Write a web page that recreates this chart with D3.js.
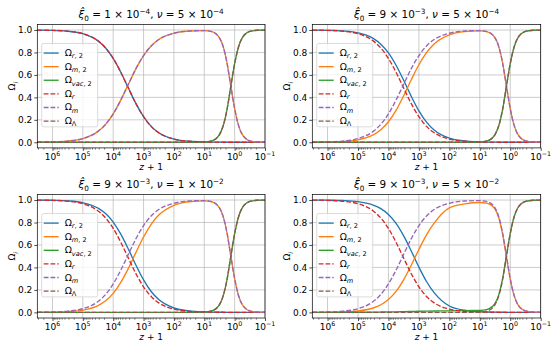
<!DOCTYPE html>
<html>
<head>
<meta charset="utf-8">
<script src="https://cdn.jsdelivr.net/npm/d3@7"></script>
<style>
  body { margin: 0; background: #fff; }
  svg { font-family: "DejaVu Sans", sans-serif; }
</style>
</head>
<body>
<svg id="chart" width="560" height="350"></svg>
<script>
// log10(z + 1) sample points
const logZp1 = [6.5, 6, 5.5, 5, 4.5, 4.25, 4, 3.75, 3.5, 3.25, 3, 2.75, 2.5, 2, 1.5, 1, 0.75, 0.5, 0.375, 0.25, 0.125, 0, -0.125, -0.25, -0.5, -0.75, -1];

// standard model (dashed), same in every panel
const omegaR = [0.999, 0.997, 0.989, 0.967, 0.903, 0.840, 0.747, 0.624, 0.483, 0.344, 0.228, 0.142, 0.085, 0.029, 0.009, 0.003, 0.002, 0.001, 0.0007, 0.0005, 0.0003, 0.0002, 0.0001, 0.0001, 0, 0, 0];
const omegaM = [0.001, 0.003, 0.011, 0.033, 0.097, 0.160, 0.253, 0.376, 0.517, 0.656, 0.772, 0.858, 0.915, 0.971, 0.991, 0.995, 0.985, 0.930, 0.850, 0.705, 0.500, 0.300, 0.153, 0.070, 0.013, 0.002, 0.0004];
const omegaL = [0, 0, 0, 0, 0, 0, 0, 0, 0, 0, 0, 0, 0, 0, 0.0001, 0.002, 0.013, 0.069, 0.149, 0.294, 0.500, 0.700, 0.847, 0.930, 0.987, 0.998, 0.9996];

// modified model (solid), one set per panel
const r2A = omegaR, m2A = omegaM, vac2A = omegaL;

const r2B = [0.9992, 0.9974, 0.9919, 0.975, 0.925, 0.874, 0.796, 0.686, 0.552, 0.409, 0.280, 0.180, 0.110, 0.037, 0.012, 0.004, 0.002, 0.0012, 0.0008, 0.0005, 0.0003, 0.0002, 0.0001, 0.0001, 0, 0, 0];
const m2B = [0.0007, 0.0022, 0.007, 0.022, 0.066, 0.112, 0.183, 0.285, 0.415, 0.557, 0.691, 0.799, 0.876, 0.957, 0.986, 0.993, 0.984, 0.930, 0.850, 0.705, 0.500, 0.300, 0.153, 0.070, 0.013, 0.002, 0.0004];
const vac2B = omegaL;

const r2C = [0.9992, 0.9975, 0.9923, 0.976, 0.928, 0.879, 0.803, 0.696, 0.563, 0.420, 0.289, 0.186, 0.114, 0.039, 0.0127, 0.0041, 0.0023, 0.0013, 0.0009, 0.0006, 0.0004, 0.0003, 0.0002, 0.0001, 0, 0, 0];
const m2C = [0.00065, 0.002, 0.0064, 0.020, 0.061, 0.103, 0.169, 0.267, 0.392, 0.534, 0.671, 0.784, 0.866, 0.953, 0.985, 0.992, 0.984, 0.930, 0.850, 0.705, 0.500, 0.300, 0.153, 0.070, 0.013, 0.002, 0.0004];
const vac2C = omegaL;

const r2D = [0.9995, 0.9985, 0.9953, 0.985, 0.955, 0.923, 0.871, 0.792, 0.681, 0.546, 0.403, 0.275, 0.176, 0.057, 0.019, 0.0065, 0.0038, 0.002, 0.0015, 0.001, 0.0007, 0.0005, 0.0003, 0.0002, 0.0001, 0, 0];
const m2D = [0.0004, 0.0013, 0.004, 0.0128, 0.039, 0.068, 0.114, 0.187, 0.290, 0.420, 0.560, 0.690, 0.794, 0.930, 0.965, 0.978, 0.970, 0.918, 0.840, 0.695, 0.494, 0.296, 0.151, 0.069, 0.013, 0.002, 0.0004];
const vac2D = [0, 0, 0.001, 0.001, 0.002, 0.003, 0.004, 0.005, 0.007, 0.008, 0.010, 0.011, 0.012, 0.014, 0.016, 0.017, 0.027, 0.080, 0.158, 0.300, 0.505, 0.703, 0.849, 0.931, 0.987, 0.998, 0.9996];

const xiMant = ['1', '9', '9', '9'];
const xiExp = ['−4', '−3', '−3', '−3'];
const nuMant = ['5', '5', '1', '5'];
const nuExp = ['−4', '−4', '−2', '−2'];

const xTickExp = [6, 5, 4, 3, 2, 1, 0, -1];
const yTicks = [0, 0.2, 0.4, 0.6, 0.8, 1.0];

const panelSeries = [
  [r2A, m2A, vac2A],
  [r2B, m2B, vac2B],
  [r2C, m2C, vac2C],
  [r2D, m2D, vac2D],
];

const styles = [
  { color: '#1f77b4', dash: null, label: [{ t: 'Ω' }, { t: 'r', it: 1, sub: 1 }, { t: ', 2', sub: 1 }] },
  { color: '#ff7f0e', dash: null, label: [{ t: 'Ω' }, { t: 'm', it: 1, sub: 1 }, { t: ', 2', sub: 1 }] },
  { color: '#2ca02c', dash: null, label: [{ t: 'Ω' }, { t: 'vac', it: 1, sub: 1 }, { t: ', 2', sub: 1 }] },
  { color: '#d62728', dash: '4.8,2', label: [{ t: 'Ω' }, { t: 'r', it: 1, sub: 1 }] },
  { color: '#9467bd', dash: '4.8,2', label: [{ t: 'Ω' }, { t: 'm', it: 1, sub: 1 }] },
  { color: '#8c564b', dash: '4.8,2', label: [{ t: 'Ω' }, { t: 'Λ', sub: 1 }] },
];

const boxes = [
  { x0: 37.3, x1: 265, y0: 24.4, y1: 147.9 },
  { x0: 312.3, x1: 540.7, y0: 24.4, y1: 147.9 },
  { x0: 37.3, x1: 265, y0: 194.4, y1: 318 },
  { x0: 312.3, x1: 540.7, y0: 194.4, y1: 318 },
];

const svg = d3.select('#chart');

function rich(sel, parts, size) {
  let shift = 0;
  parts.forEach((p) => {
    const target = p.sup ? -0.42 * size : p.sub ? 0.25 * size : 0;
    const ts = sel.append('tspan').text(p.t);
    if (target - shift !== 0) ts.attr('dy', target - shift);
    if (p.it) ts.attr('font-style', 'italic');
    if (p.sup || p.sub) ts.attr('font-size', size * 0.7);
    shift = target;
  });
}

boxes.forEach((b, pi) => {
  const g = svg.append('g');
  const x = d3.scaleLog().domain([Math.pow(10, 6.5), 0.1]).range([b.x0, b.x1]);
  const y = d3.scaleLinear().domain([-0.05, 1.05]).range([b.y1, b.y0]);
  const majors = xTickExp.map((e) => Math.pow(10, e));
  const minors = [];
  for (let e = -1; e <= 6; e++) {
    for (let k = 2; k <= 9; k++) {
      const v = k * Math.pow(10, e);
      if (v <= Math.pow(10, 6.5) && v >= 0.1) minors.push(v);
    }
  }

  // grid
  g.append('g')
    .selectAll('line')
    .data(majors)
    .join('line')
    .attr('x1', (d) => x(d)).attr('x2', (d) => x(d))
    .attr('y1', b.y0).attr('y2', b.y1)
    .attr('stroke', '#b0b0b0').attr('stroke-width', 0.9).attr('opacity', 0.7);
  g.append('g')
    .selectAll('line')
    .data(yTicks)
    .join('line')
    .attr('x1', b.x0).attr('x2', b.x1)
    .attr('y1', (d) => y(d)).attr('y2', (d) => y(d))
    .attr('stroke', '#b0b0b0').attr('stroke-width', 0.9).attr('opacity', 0.7);

  // curves
  const series = panelSeries[pi].concat([omegaR, omegaM, omegaL]);
  const line = d3.line()
    .x((d) => x(Math.pow(10, d[0])))
    .y((d) => y(d[1]))
    .curve(d3.curveMonotoneX);
  const clipId = 'clip' + pi;
  g.append('clipPath').attr('id', clipId)
    .append('rect').attr('x', b.x0).attr('y', b.y0)
    .attr('width', b.x1 - b.x0).attr('height', b.y1 - b.y0);
  const plot = g.append('g').attr('clip-path', `url(#${clipId})`);
  series.forEach((vals, si) => {
    plot.append('path')
      .datum(logZp1.map((u, i) => [u, vals[i]]))
      .attr('d', line)
      .attr('fill', 'none')
      .attr('stroke', styles[si].color)
      .attr('stroke-width', 1.35)
      .attr('stroke-dasharray', styles[si].dash);
  });

  // axes
  const xAxis = g.append('g')
    .attr('transform', `translate(0,${b.y1})`)
    .call(d3.axisBottom(x).tickValues(majors).tickFormat('').tickSize(3).tickSizeOuter(0));
  g.append('g')
    .attr('transform', `translate(0,${b.y1})`)
    .call(d3.axisBottom(x).tickValues(minors).tickFormat('').tickSize(1.7).tickSizeOuter(0))
    .call((a) => a.select('.domain').remove())
    .selectAll('line').attr('stroke-width', 0.5);
  const yAxis = g.append('g')
    .attr('transform', `translate(${b.x0},0)`)
    .call(d3.axisLeft(y).tickValues(yTicks).tickFormat(d3.format('.1f')).tickSize(3).tickSizeOuter(0));
  yAxis.selectAll('text')
    .attr('font-size', 9).attr('font-family', 'DejaVu Sans').attr('fill', '#000').attr('x', -5);
  [xAxis, yAxis].forEach((a) => {
    a.selectAll('.tick line').attr('stroke', '#000').attr('stroke-width', 0.7);
    a.select('.domain').remove();
  });

  xTickExp.forEach((e) => {
    const t = g.append('text')
      .attr('x', x(Math.pow(10, e)))
      .attr('y', b.y1 + 12)
      .attr('text-anchor', 'middle')
      .attr('font-size', 9);
    rich(t, [{ t: '10' }, { t: e < 0 ? '−' + -e : String(e), sup: 1 }], 9);
  });

  g.append('rect')
    .attr('x', b.x0).attr('y', b.y0)
    .attr('width', b.x1 - b.x0).attr('height', b.y1 - b.y0)
    .attr('fill', 'none').attr('stroke', '#000').attr('stroke-width', 0.7);

  // title
  const cx = (b.x0 + b.x1) / 2;
  const title = g.append('text')
    .attr('x', cx).attr('y', b.y0 - 6)
    .attr('text-anchor', 'middle').attr('font-size', 10.4);
  rich(title, [
    { t: 'ξ\u0302', it: 1 }, { t: '0', sub: 1 },
    { t: ' = ' + xiMant[pi] + ' × 10' }, { t: xiExp[pi], sup: 1 },
    { t: ', ' }, { t: 'ν', it: 1 },
    { t: ' = ' + nuMant[pi] + ' × 10' }, { t: nuExp[pi], sup: 1 },
  ], 10.4);

  // x label
  const xl = g.append('text')
    .attr('x', cx).attr('y', b.y1 + 22)
    .attr('text-anchor', 'middle').attr('font-size', 9);
  rich(xl, [{ t: 'z', it: 1 }, { t: ' + 1' }], 9);

  // y label
  const yl = g.append('text')
    .attr('transform', `translate(${b.x0 - 22},${(b.y0 + b.y1) / 2}) rotate(-90)`)
    .attr('text-anchor', 'middle').attr('font-size', 9);
  rich(yl, [{ t: 'Ω' }, { t: 'i', it: 1, sub: 1 }], 9);

  // legend
  const lx = b.x0 + 4.4;
  const lh = 83.4;
  const ly = (b.y0 + b.y1) / 2 - lh / 2 - 1;
  const leg = g.append('g');
  leg.append('rect')
    .attr('x', lx).attr('y', ly).attr('width', 56).attr('height', lh)
    .attr('rx', 2)
    .attr('fill', '#fff').attr('fill-opacity', 0.8)
    .attr('stroke', '#cccccc').attr('stroke-width', 0.7);
  styles.forEach((s, i) => {
    const ry = ly + 9.6 + i * 13.6;
    leg.append('line')
      .attr('x1', lx + 2).attr('x2', lx + 17)
      .attr('y1', ry).attr('y2', ry)
      .attr('stroke', s.color).attr('stroke-width', 1.35)
      .attr('stroke-dasharray', s.dash);
    const t = leg.append('text')
      .attr('x', lx + 23).attr('y', ry + 3)
      .attr('font-size', 9.4);
    rich(t, s.label, 9.4);
  });
});
</script>
</body>
</html>
